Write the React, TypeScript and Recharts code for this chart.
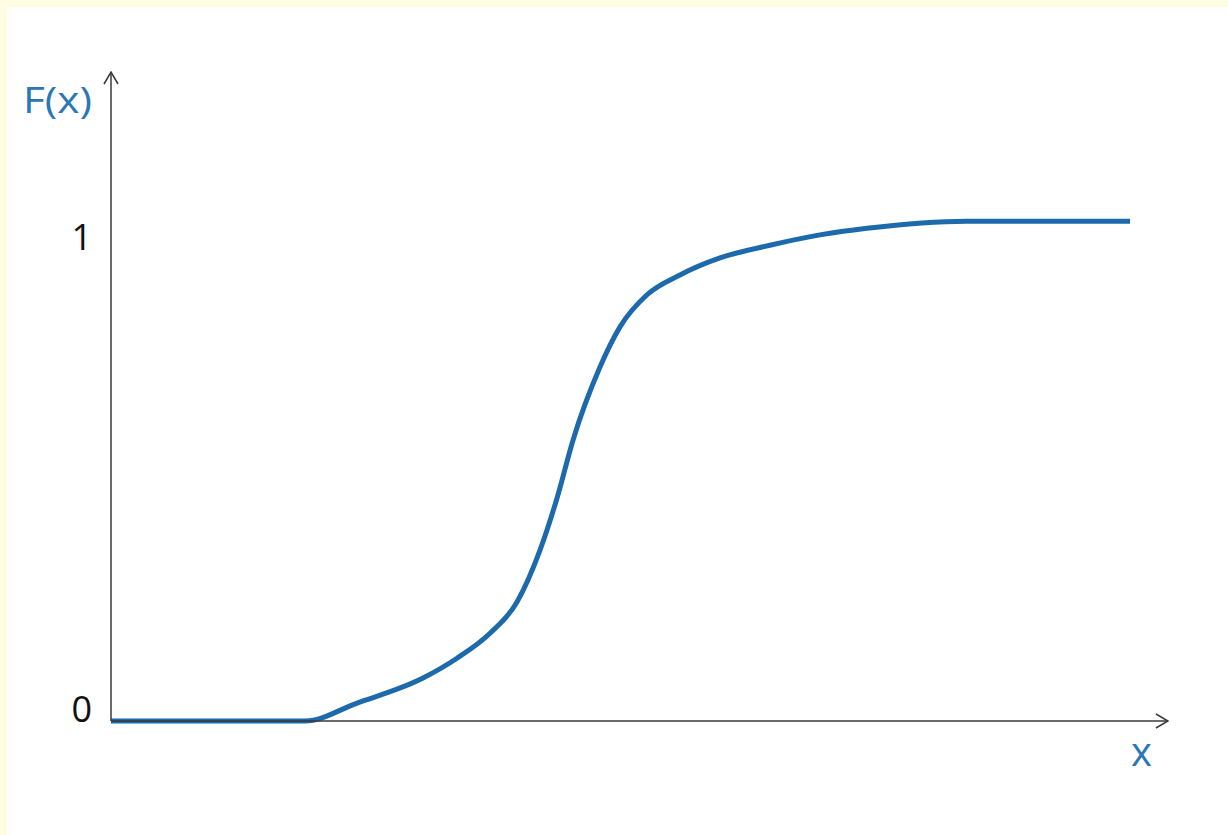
import React from 'react';
import { LineChart, Line, XAxis, YAxis } from 'recharts';

// x positions and F(x) values
const xValues = [0, 1.94, 2.46, 3.12, 3.46, 3.79, 4.06, 4.29, 4.46, 4.62, 4.89, 5.09, 5.36, 5.69, 6.09, 6.59, 7.09, 7.56, 8.56, 10.19];
const fValues = [0, 0, 0.038, 0.091, 0.133, 0.186, 0.252, 0.362, 0.472, 0.595, 0.75, 0.835, 0.903, 0.945, 0.981, 1.008, 1.03, 1.044, 1.059, 1.059];
const yTicks = [0, 1];

const data = xValues.map((x, i) => ({ x, F: fValues[i] }));

const BLUE = '#1c6aab';
const LABEL_BLUE = '#2a77b6';
const AXIS = '#3a3a3a';
const FONT = '"Open Sans", "Noto Sans", sans-serif';

function YTick({ x, y, payload }: any) {
  return (
    <text x={x} y={y} dy={1} textAnchor="end" fontFamily={FONT} fontSize={36} fill="#111">
      {payload.value}
    </text>
  );
}

export default function App() {
  return (
    <div style={{ position: 'absolute', left: 0, top: 0, width: 1228, height: 835, background: '#fffde1' }}>
      <div style={{ position: 'absolute', left: 7, top: 7, right: 0, bottom: 0, background: '#ffffff' }} />
      <div style={{ position: 'absolute', left: 0, top: 0 }}>
        <LineChart width={1228} height={835} data={data} margin={{ top: 72, right: 60, left: 0, bottom: 84 }}>
          <defs>
            <marker
              id="arrow"
              viewBox="0 0 14 16"
              markerWidth={14}
              markerHeight={16}
              refX={13}
              refY={8}
              markerUnits="userSpaceOnUse"
              orient="auto-start-reverse"
            >
              <path d="M1,1 L13,8 L1,15" fill="none" stroke={AXIS} strokeWidth={1.5} />
            </marker>
          </defs>
          <XAxis
            dataKey="x"
            type="number"
            domain={[0, 10.57]}
            height={30}
            tick={false}
            tickLine={false}
            axisLine={{ stroke: AXIS, strokeWidth: 1.5, markerEnd: 'url(#arrow)' }}
            label={{
              content: ({ viewBox }: any) => (
                <text
                  x={viewBox.x + viewBox.width - 37}
                  y={viewBox.y + 45}
                  fontFamily={FONT}
                  fontSize={40}
                  fill={LABEL_BLUE}
                >
                  x
                </text>
              ),
            }}
          />
          <YAxis
            type="number"
            domain={[0, 1.375]}
            ticks={yTicks}
            width={111}
            tickSize={0}
            tickMargin={19}
            tickLine={false}
            tick={<YTick />}
            axisLine={{ stroke: AXIS, strokeWidth: 1.5, markerStart: 'url(#arrow)' }}
            label={{
              content: ({ viewBox }: any) => (
                <text
                  x={viewBox.x + 23}
                  y={viewBox.y + 41}
                  fontFamily={FONT}
                  fontSize={36}
                  fill={LABEL_BLUE}
                  textLength={69}
                  lengthAdjust="spacingAndGlyphs"
                >
                  F(x)
                </text>
              ),
            }}
          />
          <Line
            type="monotone"
            dataKey="F"
            stroke={BLUE}
            strokeWidth={5}
            dot={false}
            activeDot={false}
            isAnimationActive={false}
          />
        </LineChart>
      </div>
    </div>
  );
}
